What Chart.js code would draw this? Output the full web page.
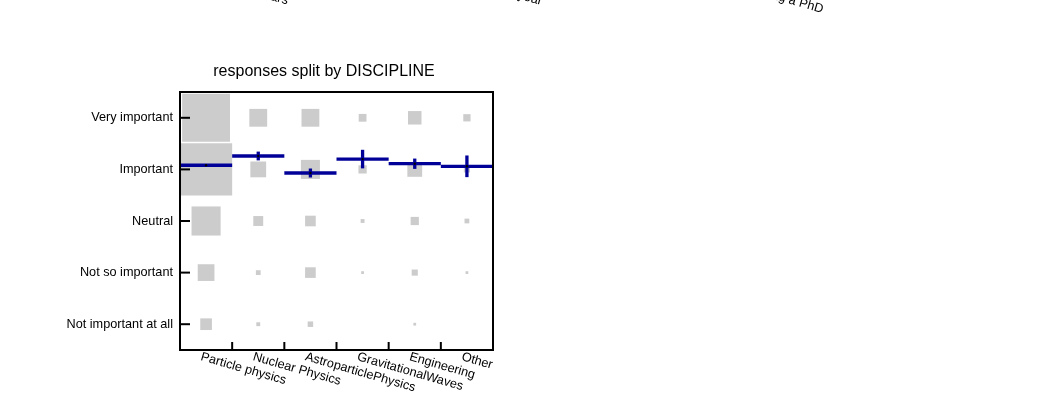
<!DOCTYPE html>
<html>
<head>
<meta charset="utf-8">
<script src="https://cdn.jsdelivr.net/npm/chart.js@4.4.1/dist/chart.umd.min.js"></script>
<style>
  body { margin: 0; background: #fff; }
  canvas { display: block; }
</style>
</head>
<body>
<canvas id="myChart" width="1043" height="401"></canvas>
<script>
// ----------- data ------------ //

let disciplines = ["Particle physics", "Nuclear Physics", "AstroparticlePhysics", "GravitationalWaves", "Engineering", "Other"];
// y = 1 .. 5
let answers = ["Not important at all", "Not so important", "Neutral", "Important", "Very important"];

// number of answers per discipline (same order as answers)
let particle_counts = [18, 37, 112, 360, 303];
let nuclear_counts = [2, 3, 13, 33, 42];
let astro_counts = [4, 15, 15, 48, 42];
let grav_counts = [0, 1, 2, 9, 8];
let eng_counts = [1, 5, 9, 29, 24];
let other_counts = [0, 1, 3, 5, 7];

// mean answer and its error, per discipline
let means = [4.08, 4.26, 3.93, 4.20, 4.11, 4.06];
let errors = [0.01, 0.085, 0.087, 0.18, 0.10, 0.21];

let title = "responses split by DISCIPLINE";

// cut-off labels of the plots above this one
let topLabels = ["years", "year", "Doing a PhD"];

// ------------- X ------------------ X ------------------

let FONT = '"Liberation Sans", Arial, sans-serif';
let BLUE = "#000099";

let all_counts = [particle_counts, nuclear_counts, astro_counts, grav_counts, eng_counts, other_counts];
let maxCount = Math.max(...all_counts.flat());

let boxPoints = [];
all_counts.forEach((counts, i) => {
  counts.forEach((c, j) => {
    if (c > 0) boxPoints.push({ x: i + 0.5, y: j + 1, c: c });
  });
});
let meanPoints = means.map((m, i) => ({ x: i + 0.5, y: m, e: errors[i] }));

function cellWidth(chart) {
  let xs = chart.scales.x;
  return xs.getPixelForValue(1) - xs.getPixelForValue(0);
}

// frame, ticks, rotated labels, title
const extraDraw = {
  id: "extraDraw",
  afterDraw(chart) {
    const { ctx, chartArea: a, scales: { x, y } } = chart;
    ctx.save();
    ctx.strokeStyle = "#000";
    ctx.lineWidth = 2;
    ctx.strokeRect(a.left, a.top, a.right - a.left, a.bottom - a.top);

    answers.forEach((_, i) => {
      let py = y.getPixelForValue(i + 1);
      ctx.beginPath();
      ctx.moveTo(a.left, py);
      ctx.lineTo(a.left + 10, py);
      ctx.stroke();
    });
    for (let i = 1; i < disciplines.length; i++) {
      let px = x.getPixelForValue(i);
      ctx.beginPath();
      ctx.moveTo(px, a.bottom);
      ctx.lineTo(px, a.bottom - 8);
      ctx.stroke();
    }

    ctx.fillStyle = "#000";
    ctx.font = "12.7px " + FONT;
    ctx.textAlign = "left";
    ctx.textBaseline = "alphabetic";
    disciplines.forEach((d, i) => {
      let px = x.getPixelForValue(i + 0.5);
      ctx.save();
      ctx.translate(px - 6, a.bottom + 10);
      ctx.rotate(16 * Math.PI / 180);
      ctx.fillText(d, 0, 0);
      ctx.restore();
    });

    // leftovers from the plots above
    let ends = [[287, 4.5], [541, 5], [822, 13]];
    ctx.textAlign = "right";
    topLabels.forEach((t, i) => {
      ctx.save();
      ctx.translate(ends[i][0], ends[i][1]);
      ctx.rotate(16 * Math.PI / 180);
      ctx.fillText(t, 0, 0);
      ctx.restore();
    });

    ctx.font = "16px " + FONT;
    ctx.textAlign = "center";
    ctx.fillText(title, 324, 76);
    ctx.restore();
  }
};

new Chart("myChart", {
  type: "scatter",
  data: {
    datasets: [
      {
        data: meanPoints,
        pointStyle: "circle",
        pointRadius: 1.2,
        pointBackgroundColor: "#000",
        pointBorderWidth: 0
      },
      {
        data: meanPoints,
        pointStyle: "line",
        pointRotation: 90,
        pointRadius: (c) => {
          let ys = c.chart.scales.y;
          return Math.abs(ys.getPixelForValue(c.raw.y + c.raw.e) - ys.getPixelForValue(c.raw.y));
        },
        pointBorderColor: BLUE,
        pointBorderWidth: 3.3
      },
      {
        data: meanPoints,
        pointStyle: "line",
        pointRadius: (c) => cellWidth(c.chart) / 2,
        pointBorderColor: BLUE,
        pointBorderWidth: 3.3
      },
      {
        data: boxPoints,
        pointStyle: "rect",
        pointRadius: (c) => cellWidth(c.chart) * Math.sqrt(c.raw.c / maxCount) / Math.SQRT2,
        pointBackgroundColor: "#cccccc",
        pointBorderWidth: 0
      }
    ]
  },
  options: {
    responsive: false,
    animation: false,
    events: [],
    layout: { padding: { left: 0, top: 92, right: 550, bottom: 0 } },
    plugins: {
      legend: { display: false },
      title: { display: false },
      tooltip: { enabled: false }
    },
    scales: {
      x: {
        type: "linear",
        min: 0,
        max: disciplines.length,
        ticks: { display: false },
        grid: { display: false, drawTicks: false },
        border: { display: false },
        afterFit: (s) => { s.height = 51; }
      },
      y: {
        type: "linear",
        min: 0.5,
        max: answers.length + 0.5,
        afterBuildTicks: (s) => { s.ticks = answers.map((_, i) => ({ value: i + 1 })); },
        ticks: {
          padding: 7,
          color: "#000",
          font: { family: FONT, size: 12.7 },
          callback: (v) => answers[v - 1]
        },
        grid: { display: false, drawTicks: false },
        border: { display: false },
        afterFit: (s) => { s.width = 180; }
      }
    }
  },
  plugins: [extraDraw]
});
</script>
</body>
</html>
